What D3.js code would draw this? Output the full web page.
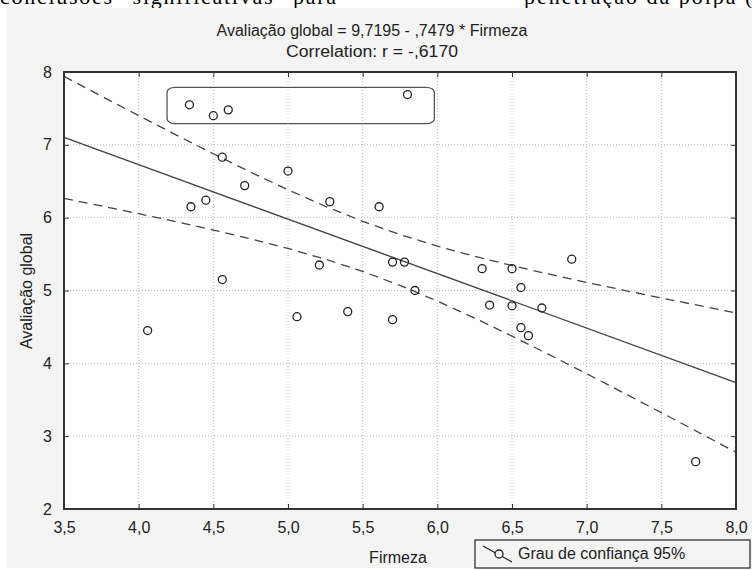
<!DOCTYPE html>
<html>
<head>
<meta charset="utf-8">
<script src="https://cdn.jsdelivr.net/npm/d3@7"></script>
<style>
  body { margin: 0; background: #fff; }
  text { font-family: "Liberation Sans", Arial, sans-serif; fill: #222; }
</style>
</head>
<body>
<svg width="752" height="570"></svg>
<script>
const svg = d3.select("svg")
const width = +svg.attr("width")
const height = +svg.attr("height")

// readings from the picture: Firmeza (x) / Avaliacao global (y)
const firmeza = [4.34, 4.50, 4.60, 4.56, 4.71, 4.35, 4.45, 4.56, 4.06, 5.80,
                 5.00, 5.28, 5.61, 5.21, 5.70, 5.78, 6.30, 5.85, 6.35, 5.40,
                 5.06, 5.70, 6.90, 6.50, 6.56, 6.50, 6.70, 6.56, 6.61, 7.73]
const avaliacao = [7.55, 7.40, 7.48, 6.83, 6.44, 6.15, 6.24, 5.15, 4.45, 7.69,
                   6.64, 6.22, 6.15, 5.35, 5.39, 5.39, 5.30, 5.00, 4.80, 4.71,
                   4.64, 4.60, 5.43, 5.30, 5.04, 4.79, 4.76, 4.49, 4.38, 2.65]
const intercept = 9.7195
const slope = -0.7479
const xTicks = [3.5, 4.0, 4.5, 5.0, 5.5, 6.0, 6.5, 7.0, 7.5, 8.0]
const yTicks = [2, 3, 4, 5, 6, 7, 8]
// outlined group of points (data coords)
const boxX = [4.19, 5.98]
const boxY = [7.29, 7.79]

const data = firmeza.map((f, i) => ({x: f, y: avaliacao[i]}))

// page text above the chart, cut off by the crop
const pg = svg.append("g")
pg.append("text").attr("x", 0).attr("y", 4).style("fill", "#000")
  .style("font-family", "Liberation Serif, serif").style("font-size", "22px")
  .attr("textLength", 336).text("conclusões “significativas” para")
pg.append("text").attr("x", 524).attr("y", 4).style("fill", "#000")
  .style("font-family", "Liberation Serif, serif").style("font-size", "22px")
  .attr("textLength", 240).text("penetração da polpa (e")

svg.append("rect")
  .attr("x", 7).attr("y", 8)
  .attr("width", width - 7).attr("height", 560)
  .attr("fill", "#f4f4f4")

const mLeft = 64, mRight = 736, mTop = 72, mBottom = 509

const x = d3.scaleLinear().domain([3.5, 8]).range([mLeft, mRight])
const y = d3.scaleLinear().domain([2, 8]).range([mBottom, mTop])

svg.append("rect")
  .attr("x", mLeft).attr("y", mTop)
  .attr("width", mRight - mLeft).attr("height", mBottom - mTop)
  .attr("fill", "#fff")

// grid
svg.append("g").selectAll("line").data(xTicks.slice(1, -1)).join("line")
  .attr("x1", d => x(d)).attr("x2", d => x(d))
  .attr("y1", mTop).attr("y2", mBottom)
  .attr("stroke", "#bbb").attr("stroke-dasharray", "1,2")
svg.append("g").selectAll("line").data(yTicks.slice(1, -1)).join("line")
  .attr("y1", d => y(d)).attr("y2", d => y(d))
  .attr("x1", mLeft).attr("x2", mRight)
  .attr("stroke", "#bbb").attr("stroke-dasharray", "1,2")

// confidence band 95% for the regression line
const n = data.length
const xm = d3.mean(firmeza)
const sxx = d3.sum(firmeza, v => (v - xm) ** 2)
const s = Math.sqrt(d3.sum(data, d => (d.y - (intercept + slope * d.x)) ** 2) / (n - 2))
const t = 2.048
const xs = d3.range(3.5, 8.0001, 0.25)
const band = xs.map(v => {
  const fit = intercept + slope * v
  const h = t * s * Math.sqrt(1 / n + (v - xm) ** 2 / sxx)
  return {x: v, lo: fit - h, hi: fit + h}
})

const lineHi = d3.line().x(d => x(d.x)).y(d => y(d.hi))
const lineLo = d3.line().x(d => x(d.x)).y(d => y(d.lo))
const plot = svg.append("g")
plot.append("path").attr("d", lineHi(band))
  .attr("fill", "none").attr("stroke", "#444").attr("stroke-width", 1.3).attr("stroke-dasharray", "9,6")
plot.append("path").attr("d", lineLo(band))
  .attr("fill", "none").attr("stroke", "#444").attr("stroke-width", 1.3).attr("stroke-dasharray", "9,6")

plot.append("line")
  .attr("x1", x(3.5)).attr("y1", y(intercept + slope * 3.5))
  .attr("x2", x(8)).attr("y2", y(intercept + slope * 8))
  .attr("stroke", "#444").attr("stroke-width", 1.4)

plot.selectAll("circle").data(data).join("circle")
  .attr("cx", d => x(d.x)).attr("cy", d => y(d.y))
  .attr("r", 4)
  .attr("fill", "none").attr("stroke", "#222").attr("stroke-width", 1.3)

plot.append("rect")
  .attr("x", x(boxX[0])).attr("y", y(boxY[1]))
  .attr("width", x(boxX[1]) - x(boxX[0])).attr("height", y(boxY[0]) - y(boxY[1]))
  .attr("rx", 8).attr("ry", 5)
  .attr("fill", "none").attr("stroke", "#555").attr("stroke-width", 1.3)

// axes
const fmt = d => d3.format(".1f")(d).replace(".", ",")
const xAxis = svg.append("g").attr("transform", `translate(0,${mBottom})`)
  .call(d3.axisBottom(x).tickValues(xTicks).tickFormat(fmt).tickSizeInner(-5).tickSizeOuter(0).tickPadding(13))
const yAxis = svg.append("g").attr("transform", `translate(${mLeft},0)`)
  .call(d3.axisLeft(y).tickValues(yTicks).tickFormat(d3.format("d")).tickSizeInner(-5).tickSizeOuter(0).tickPadding(12))
const xTop = svg.append("g").attr("transform", `translate(0,${mTop})`)
  .call(d3.axisTop(x).tickValues(xTicks).tickFormat("").tickSizeInner(-5).tickSizeOuter(0))
const yRight = svg.append("g").attr("transform", `translate(${mRight},0)`)
  .call(d3.axisRight(y).tickValues(yTicks).tickFormat("").tickSizeInner(-5).tickSizeOuter(0))

;[xAxis, yAxis, xTop, yRight].forEach(a => {
  a.select(".domain").remove()
  a.selectAll(".tick line").attr("stroke", "#333")
  a.selectAll(".tick text").style("font-size", "16px").style("font-family", "Liberation Sans, Arial, sans-serif").attr("fill", "#222")
})

svg.append("rect")
  .attr("x", mLeft).attr("y", mTop)
  .attr("width", mRight - mLeft).attr("height", mBottom - mTop)
  .attr("fill", "none").attr("stroke", "#333").attr("stroke-width", 2)

// titles
svg.append("text").attr("x", 372).attr("y", 36).attr("text-anchor", "middle")
  .style("font-size", "16px").attr("textLength", 311).attr("lengthAdjust", "spacingAndGlyphs")
  .text("Avaliação global = 9,7195 - ,7479  * Firmeza")
svg.append("text").attr("x", 372).attr("y", 57).attr("text-anchor", "middle")
  .style("font-size", "16px").attr("textLength", 172).attr("lengthAdjust", "spacingAndGlyphs")
  .text("Correlation: r = -,6170")

svg.append("text").attr("x", 398).attr("y", 563).attr("text-anchor", "middle")
  .style("font-size", "16px").text("Firmeza")
svg.append("text").attr("transform", "translate(32,291) rotate(-90)").attr("text-anchor", "middle")
  .style("font-size", "16px").text("Avaliação global")

// legend
const lg = svg.append("g")
lg.append("rect").attr("x", 475).attr("y", 540).attr("width", 275).attr("height", 28)
  .attr("fill", "#f4f4f4").attr("stroke", "#333").attr("stroke-width", 1.3)
lg.append("line").attr("x1", 483).attr("y1", 546).attr("x2", 512).attr("y2", 562)
  .attr("stroke", "#222").attr("stroke-width", 1.2)
lg.append("circle").attr("cx", 499).attr("cy", 554).attr("r", 4)
  .attr("fill", "#f4f4f4").attr("stroke", "#222").attr("stroke-width", 1.3)
lg.append("text").attr("x", 518).attr("y", 559)
  .style("font-size", "16px").text("Grau de confiança 95%")
</script>
</body>
</html>
